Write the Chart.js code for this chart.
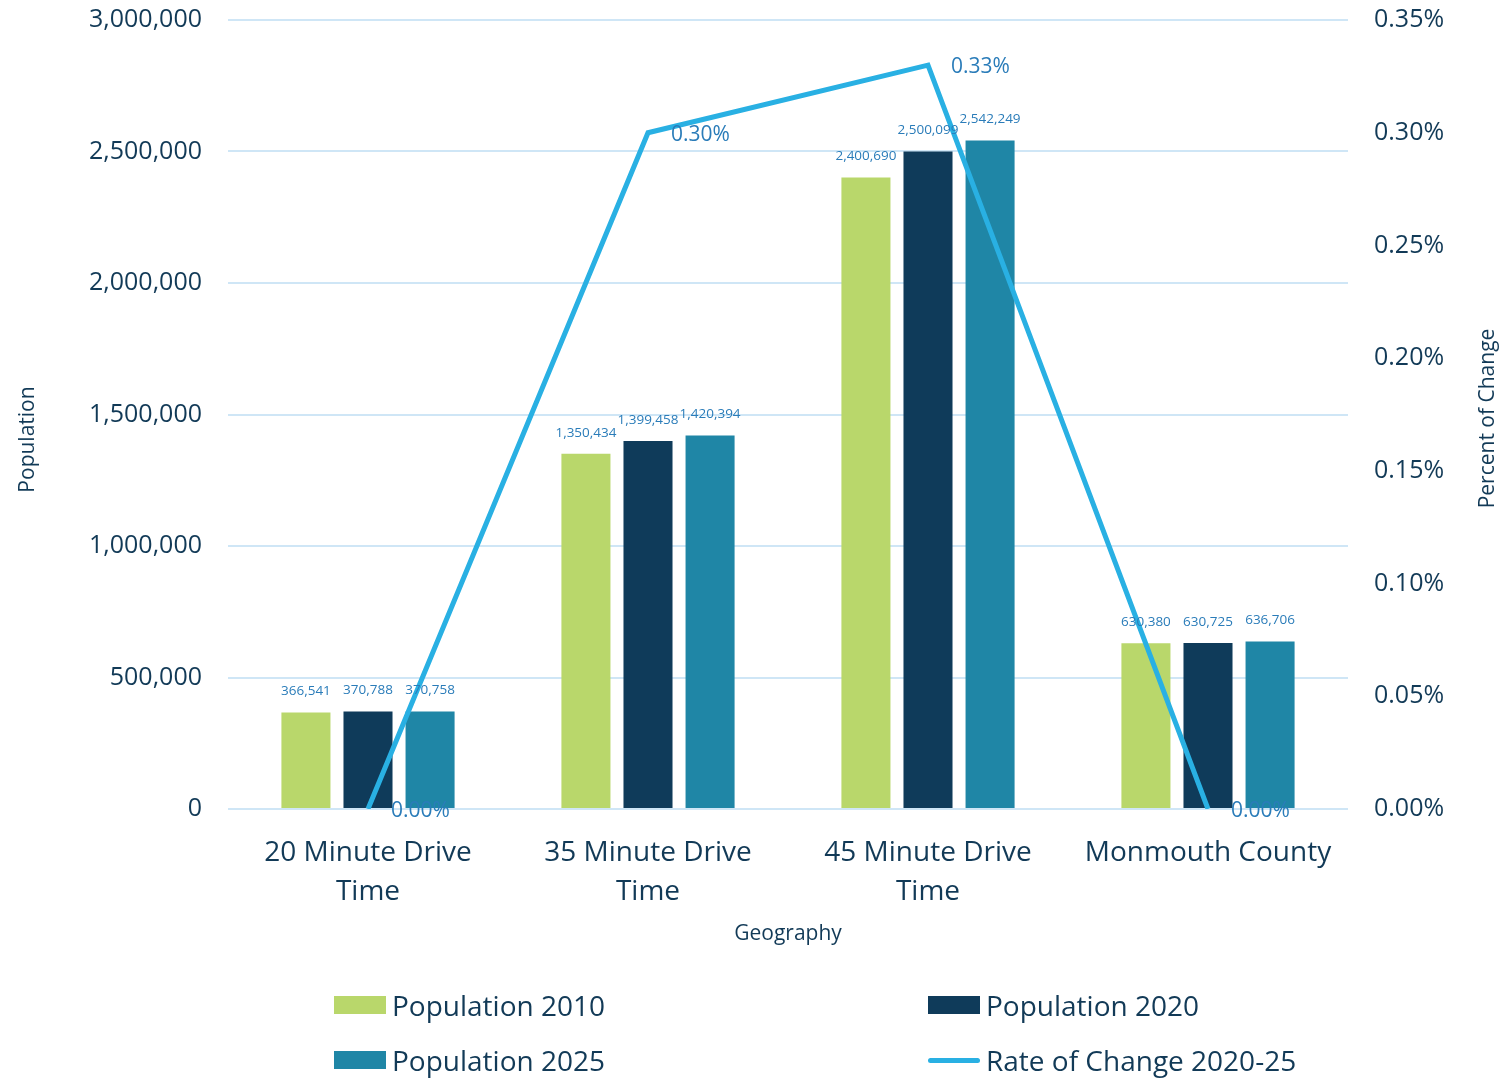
<!DOCTYPE html>
<html>
<head>
<meta charset="utf-8">
<script src="https://cdn.jsdelivr.net/npm/chart.js@4/dist/chart.umd.min.js"></script>
<style>
  html, body { margin: 0; padding: 0; background: #fff; }
  #wrap { position: relative; width: 1506px; height: 1078px; }
  #legend { position: absolute; left: 0; top: 0; width: 1506px; height: 1078px; pointer-events: none;
    font-family: "Open Sans", sans-serif; color: #123a57; font-size: 28px; }
  .item { position: absolute; display: flex; align-items: center; }
  .box { width: 52px; height: 18px; margin-right: 6px; }
  .ln { width: 52px; height: 5px; border-radius: 3px; margin-right: 6px; }
</style>
</head>
<body>
<div id="wrap">
  <canvas id="chart" width="1506" height="1078"></canvas>
  <div id="legend"></div>
</div>
<script>
const categories = [['20 Minute Drive', 'Time'], ['35 Minute Drive', 'Time'], ['45 Minute Drive', 'Time'], 'Monmouth County'];
const pop2010 = [366541, 1350434, 2400690, 630380];
const pop2020 = [370788, 1399458, 2500099, 630725];
const pop2025 = [370758, 1420394, 2542249, 636706];
const rateOfChange = [0.00, 0.30, 0.33, 0.00];

const colors = {
  p2010: '#b9d76b',
  p2020: '#0f3b5a',
  p2025: '#1f86a6',
  rate: '#29b0e3',
  text: '#123a57',
  label: '#2a7cb9',
  grid: '#cfe6f6'
};
const fontFamily = '"Open Sans", sans-serif';

// draws value labels above bars and beside line points
const valueLabels = {
  id: 'valueLabels',
  afterDatasetsDraw(chart) {
    const ctx = chart.ctx;
    ctx.save();
    chart.data.datasets.forEach((ds, i) => {
      const meta = chart.getDatasetMeta(i);
      meta.data.forEach((el, j) => {
        const v = ds.data[j];
        ctx.fillStyle = colors.label;
        ctx.textBaseline = 'middle';
        if (ds.type === 'line') {
          ctx.font = '21px ' + fontFamily;
          ctx.textAlign = 'left';
          ctx.fillText(v.toFixed(2) + '%', el.x + 23, el.y + 2);
        } else {
          ctx.font = '13.5px ' + fontFamily;
          ctx.textAlign = 'center';
          ctx.fillText(v.toLocaleString('en-US'), el.x, el.y - 21);
        }
      });
    });
    ctx.restore();
  }
};

// vertical axis titles, both reading bottom to top
const axisTitles = {
  id: 'axisTitles',
  afterDraw(chart) {
    const ctx = chart.ctx;
    const a = chart.chartArea;
    const mid = (a.top + a.bottom) / 2;
    ctx.save();
    ctx.font = '21px ' + fontFamily;
    ctx.fillStyle = colors.text;
    ctx.textAlign = 'center';
    ctx.textBaseline = 'middle';
    ctx.translate(28, mid + 25);
    ctx.rotate(-Math.PI / 2);
    ctx.fillText('Population', 0, 0);
    ctx.restore();
    ctx.save();
    ctx.font = '21px ' + fontFamily;
    ctx.fillStyle = colors.text;
    ctx.textAlign = 'center';
    ctx.textBaseline = 'middle';
    ctx.translate(1488, mid + 4);
    ctx.rotate(-Math.PI / 2);
    ctx.fillText('Percent of Change', 0, 0);
    ctx.restore();
  }
};

const ctx = document.getElementById('chart').getContext('2d');
const chart = new Chart(ctx, {
  data: {
    labels: categories,
    datasets: [
      {
        type: 'line',
        label: 'Rate of Change 2020-25',
        data: rateOfChange,
        yAxisID: 'y1',
        borderColor: colors.rate,
        borderWidth: 5,
        pointRadius: 0,
        tension: 0,
        order: 0
      },
      { type: 'bar', label: 'Population 2010', data: pop2010, backgroundColor: colors.p2010, yAxisID: 'y', order: 1,
        categoryPercentage: 0.665, barPercentage: 0.79 },
      { type: 'bar', label: 'Population 2020', data: pop2020, backgroundColor: colors.p2020, yAxisID: 'y', order: 1,
        categoryPercentage: 0.665, barPercentage: 0.79 },
      { type: 'bar', label: 'Population 2025', data: pop2025, backgroundColor: colors.p2025, yAxisID: 'y', order: 1,
        categoryPercentage: 0.665, barPercentage: 0.79 }
    ]
  },
  options: {
    responsive: false,
    animation: false,
    layout: { padding: { top: 20, left: 0, right: 0, bottom: 131 } },
    plugins: {
      legend: { display: false },
      tooltip: { enabled: false }
    },
    scales: {
      x: {
        grid: { display: false },
        border: { display: false },
        ticks: { color: colors.text, font: { family: fontFamily, size: 28, lineHeight: 1.38 }, padding: 17, maxRotation: 0, autoSkip: false },
        title: { display: true, text: 'Geography', color: colors.text, font: { family: fontFamily, size: 21 }, padding: { top: 12, bottom: 0 } },
        afterFit(scale) { scale.height = 138; }
      },
      y: {
        position: 'left',
        min: 0,
        max: 3000000,
        ticks: { stepSize: 500000, color: colors.text, font: { family: fontFamily, size: 25 }, padding: 26,
          callback: v => v.toLocaleString('en-US') },
        grid: { color: colors.grid, lineWidth: 2, drawTicks: false },
        border: { display: false },
        afterFit(scale) { scale.width = 228; scale.paddingTop = 0; scale.paddingBottom = 0; }
      },
      y1: {
        position: 'right',
        min: 0,
        max: 0.35,
        ticks: { stepSize: 0.05, color: colors.text, font: { family: fontFamily, size: 25 }, padding: 26,
          callback: v => v.toFixed(2) + '%' },
        grid: { display: false, drawTicks: false },
        border: { display: false },
        afterFit(scale) { scale.width = 158; scale.paddingTop = 0; scale.paddingBottom = 0; }
      }
    }
  },
  plugins: [valueLabels, axisTitles]
});

// legend laid out in two columns like the original
const legendItems = [
  { text: 'Population 2010', color: colors.p2010, kind: 'box', x: 334, y: 1005 },
  { text: 'Population 2020', color: colors.p2020, kind: 'box', x: 928, y: 1005 },
  { text: 'Population 2025', color: colors.p2025, kind: 'box', x: 334, y: 1060 },
  { text: 'Rate of Change 2020-25', color: colors.rate, kind: 'ln', x: 928, y: 1060 }
];
const legend = document.getElementById('legend');
legendItems.forEach(it => {
  const d = document.createElement('div');
  d.className = 'item';
  d.style.left = it.x + 'px';
  d.style.top = (it.y - 20) + 'px';
  d.style.height = '40px';
  const sw = document.createElement('span');
  sw.className = it.kind;
  sw.style.background = it.color;
  const t = document.createElement('span');
  t.textContent = it.text;
  d.appendChild(sw);
  d.appendChild(t);
  legend.appendChild(d);
});
</script>
</body>
</html>
